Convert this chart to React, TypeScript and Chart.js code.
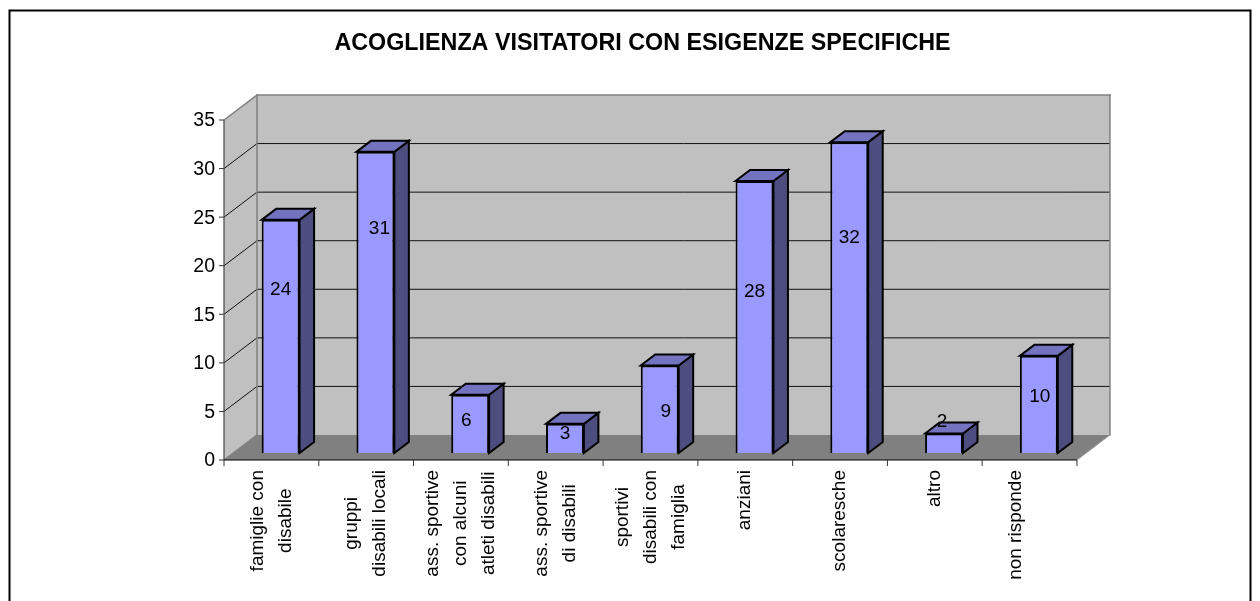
import React, { useEffect, useRef } from "react";
import { Chart, registerables } from "chart.js";

Chart.register(...registerables);

const titleText = "ACOGLIENZA VISITATORI CON ESIGENZE SPECIFICHE";
const categories: string[][] = [
  ["famiglie con", "disabile"],
  ["gruppi", "disabili locali"],
  ["ass. sportive", "con alcuni", "atleti disabili"],
  ["ass. sportive", "di disabili"],
  ["sportivi", "disabili con", "famiglia"],
  ["anziani"],
  ["scolaresche"],
  ["altro"],
  ["non risponde", ""],
];
const values = [24, 31, 6, 3, 9, 28, 32, 2, 10];
// Where the source placed each value label, read in axis units (it is not at the bar centre).
const labelLevels = [16.8, 23.1, 3.3, 1.95, 4.2, 16.6, 22.2, 3.2, 5.8];
const labelNudge = [0, 4, -4, 0, 6, 0, 0, -2, 1];

const FONT = '"Liberation Sans", Arial, sans-serif';
const FRONT = { dx: -9.24, dy: 7 };
const BACK = { dx: 23.76, dy: -18 };
const BAR_DEPTH = { dx: 14.5, dy: -11 };
const COL = {
  wall: "#C0C0C0",
  floor: "#808080",
  edge: "#808080",
  front: "#9999FF",
  top: "#7373BF",
  side: "#4D4D80",
};

function poly(ctx: CanvasRenderingContext2D, pts: number[][], fill?: string, stroke?: string, lw = 1) {
  ctx.beginPath();
  pts.forEach((p, i) => (i ? ctx.lineTo(p[0], p[1]) : ctx.moveTo(p[0], p[1])));
  ctx.closePath();
  if (fill) {
    ctx.fillStyle = fill;
    ctx.fill();
  }
  if (stroke) {
    ctx.strokeStyle = stroke;
    ctx.lineWidth = lw;
    ctx.lineJoin = "miter";
    ctx.stroke();
  }
}

function seg(ctx: CanvasRenderingContext2D, x1: number, y1: number, x2: number, y2: number, color: string, lw = 1) {
  ctx.beginPath();
  ctx.moveTo(x1, y1);
  ctx.lineTo(x2, y2);
  ctx.strokeStyle = color;
  ctx.lineWidth = lw;
  ctx.stroke();
}

const frame3d = {
  id: "frame3d",
  beforeDraw(chart: any) {
    const ctx = chart.ctx;
    ctx.save();
    ctx.fillStyle = "#fff";
    ctx.fillRect(0, 0, chart.width, chart.height);
    ctx.strokeStyle = "#000";
    ctx.lineWidth = 2;
    ctx.strokeRect(9.5, 10.5, 1241, 640);
    ctx.restore();
  },
  beforeDatasetsDraw(chart: any) {
    const ctx = chart.ctx;
    const { x: xs, y: ys } = chart.scales;
    const area = chart.chartArea;
    const yTop = ys.getPixelForValue(35);
    const y0 = ys.getPixelForValue(0);
    const xL = area.left;
    const xR = area.right;
    ctx.save();

    // back wall, left wall, floor
    poly(ctx, [[xL + BACK.dx, yTop + BACK.dy], [xR + BACK.dx, yTop + BACK.dy], [xR + BACK.dx, y0 + BACK.dy], [xL + BACK.dx, y0 + BACK.dy]], COL.wall);
    poly(ctx, [[xL + FRONT.dx, yTop + FRONT.dy], [xL + BACK.dx, yTop + BACK.dy], [xL + BACK.dx, y0 + BACK.dy], [xL + FRONT.dx, y0 + FRONT.dy]], COL.wall);
    poly(ctx, [[xL + FRONT.dx, y0 + FRONT.dy], [xL + BACK.dx, y0 + BACK.dy], [xR + BACK.dx, y0 + BACK.dy], [xR + FRONT.dx, y0 + FRONT.dy]], COL.floor);

    // grid lines and value axis ticks
    ys.ticks.forEach((t: any) => {
      const y = ys.getPixelForValue(t.value);
      if (t.value > 0 && t.value < 35) {
        seg(ctx, xL + BACK.dx, y + BACK.dy, xR + BACK.dx, y + BACK.dy, "#111");
        seg(ctx, xL + FRONT.dx, y + FRONT.dy, xL + BACK.dx, y + BACK.dy, "#111");
      }
      seg(ctx, xL + FRONT.dx - 5, y + FRONT.dy, xL + FRONT.dx, y + FRONT.dy, "#333");
    });

    // wall edges
    ctx.lineCap = "square";
    seg(ctx, xL + BACK.dx, yTop + BACK.dy, xR + BACK.dx, yTop + BACK.dy, COL.edge, 1.5);
    seg(ctx, xL + BACK.dx, yTop + BACK.dy, xL + BACK.dx, y0 + BACK.dy, COL.edge, 1.5);
    seg(ctx, xR + BACK.dx, yTop + BACK.dy, xR + BACK.dx, y0 + BACK.dy, COL.edge, 1.5);
    seg(ctx, xL + FRONT.dx, yTop + FRONT.dy, xL + BACK.dx, yTop + BACK.dy, COL.edge, 1.5);
    seg(ctx, xL + FRONT.dx, y0 + FRONT.dy, xL + BACK.dx, y0 + BACK.dy, COL.edge, 1.5);
    seg(ctx, xR + FRONT.dx, y0 + FRONT.dy, xR + BACK.dx, y0 + BACK.dy, "#9a9a9a", 1);
    ctx.lineCap = "butt";
    seg(ctx, xL + FRONT.dx, yTop + FRONT.dy, xL + FRONT.dx, y0 + FRONT.dy, "#444", 1.2);
    seg(ctx, xL + FRONT.dx, y0 + FRONT.dy, xR + FRONT.dx, y0 + FRONT.dy, "#000", 1.2);

    // category ticks and labels
    const n = categories.length;
    const step = (xR - xL) / n;
    for (let i = 0; i <= n; i++) {
      const x = xL + FRONT.dx + i * step;
      seg(ctx, x, y0 + FRONT.dy, x, y0 + FRONT.dy + 6, "#333");
    }
    ctx.fillStyle = "#000";
    ctx.font = `19px ${FONT}`;
    ctx.textBaseline = "middle";
    xs.ticks.forEach((_t: any, i: number) => {
      const lines = chart.data.labels[i] as string[];
      const cx = xs.getPixelForValue(i) + FRONT.dx;
      const widest = Math.max(...lines.map((l) => ctx.measureText(l).width));
      const mid = y0 + FRONT.dy + 10 + widest / 2;
      lines.forEach((l, k) => {
        ctx.save();
        ctx.translate(cx + (k - (lines.length - 1) / 2) * 28, mid);
        ctx.rotate(-Math.PI / 2);
        ctx.textAlign = "center";
        ctx.fillText(l, 0, 0);
        ctx.restore();
      });
    });

    // value axis labels
    ctx.font = `19.5px ${FONT}`;
    ctx.textAlign = "right";
    ctx.textBaseline = "middle";
    ys.ticks.forEach((t: any) => {
      ctx.fillText(String(t.value), xL + FRONT.dx - 9, ys.getPixelForValue(t.value) + FRONT.dy + 1);
    });

    // bar side and top faces
    const meta = chart.getDatasetMeta(0);
    meta.data.forEach((bar: any) => {
      const half = bar.width / 2;
      const l = bar.x - half;
      const r = bar.x + half;
      const t = bar.y;
      const b = bar.base;
      const d = BAR_DEPTH;
      poly(ctx, [[r, t], [r + d.dx, t + d.dy], [r + d.dx, b + d.dy], [r, b]], COL.side, "#000", 2);
      poly(ctx, [[l, t], [l + d.dx, t + d.dy], [r + d.dx, t + d.dy], [r, t]], COL.top, "#000", 2);
    });
    ctx.restore();
  },
  afterDatasetsDraw(chart: any) {
    const ctx = chart.ctx;
    const ys = chart.scales.y;
    const meta = chart.getDatasetMeta(0);
    ctx.save();
    ctx.fillStyle = "#000";
    ctx.font = `19px ${FONT}`;
    ctx.textAlign = "center";
    ctx.textBaseline = "middle";
    meta.data.forEach((bar: any, i: number) => {
      ctx.fillText(String(values[i]), bar.x + labelNudge[i], ys.getPixelForValue(labelLevels[i]));
    });
    ctx.restore();
  },
};

export default function App() {
  const ref = useRef<HTMLCanvasElement>(null);
  useEffect(() => {
    const chart = new Chart(ref.current!, {
      type: "bar",
      data: {
        labels: categories as any,
        datasets: [
          {
            data: values,
            backgroundColor: COL.front,
            borderColor: "#000",
            borderWidth: 2,
            barPercentage: 0.4,
            categoryPercentage: 1,
          },
        ],
      },
      options: {
        responsive: false,
        animation: false,
        layout: { padding: { left: 198.8, right: 173.8, top: 0, bottom: 140 } },
        plugins: {
          legend: { display: false },
          tooltip: { enabled: false },
          title: {
            display: true,
            text: titleText,
            color: "#000",
            font: { family: FONT, size: 23.3, weight: "bold", lineHeight: 1.2 },
            padding: { top: 29.5, bottom: 55.54 },
          },
        },
        scales: {
          x: {
            grid: { display: false },
            border: { display: false },
            ticks: { display: false },
          },
          y: {
            min: 0,
            max: 35,
            grid: { display: false },
            border: { display: false },
            ticks: { display: false, stepSize: 5 },
            afterFit(scale: any) {
              scale.width = 34.44;
            },
          },
        },
      },
      plugins: [frame3d as any],
    });
    return () => chart.destroy();
  }, []);
  return (
    <div style={{ position: "absolute", left: 0, top: 0, width: 1260, height: 601, overflow: "hidden" }}>
      <canvas ref={ref} width={1260} height={601} style={{ display: "block" }} />
    </div>
  );
}
